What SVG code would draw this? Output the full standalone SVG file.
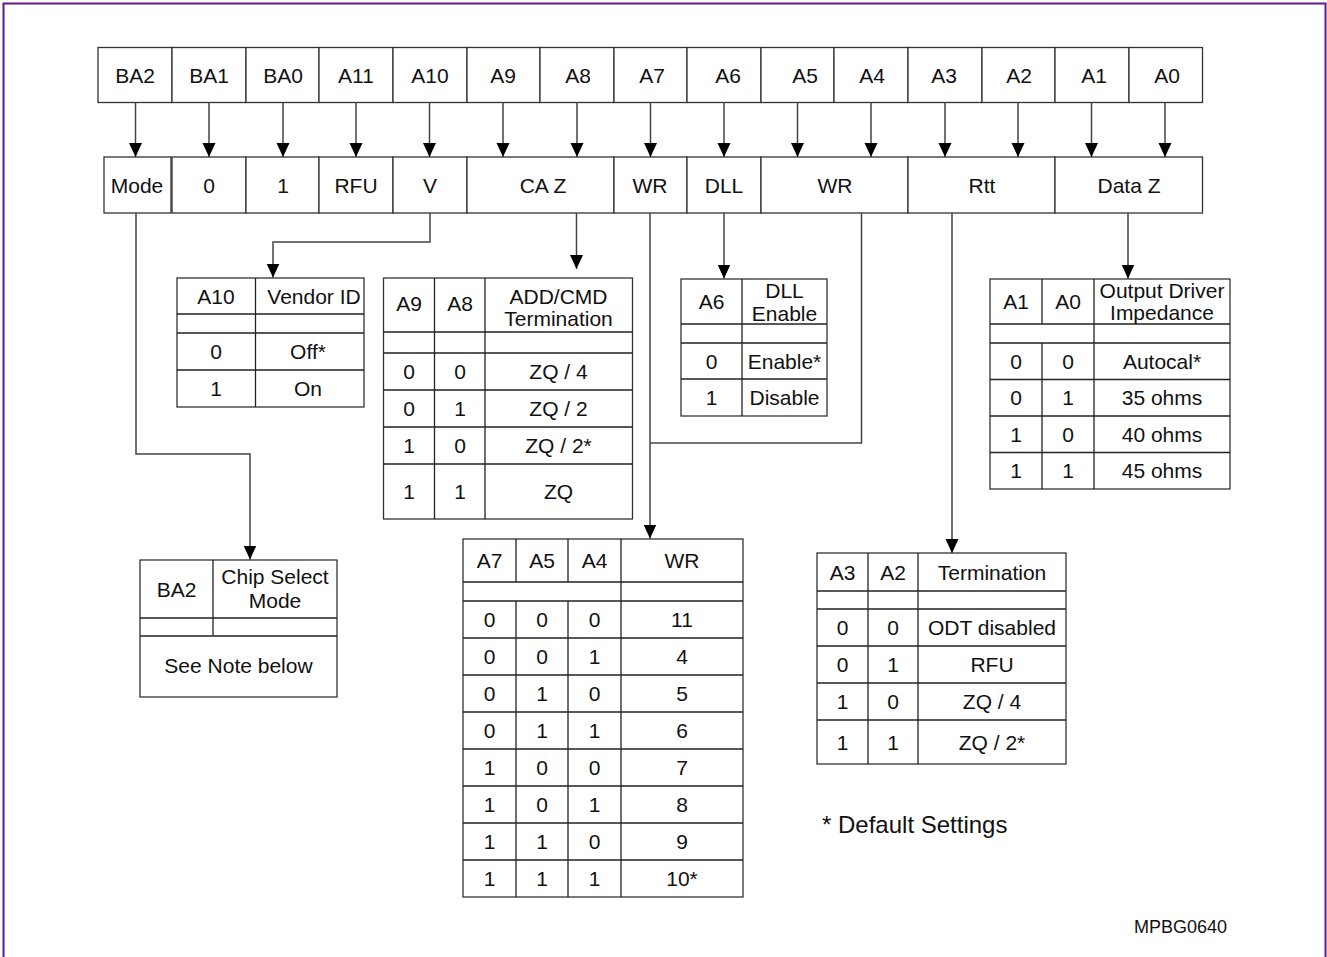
<svg xmlns="http://www.w3.org/2000/svg" width="1327" height="957" viewBox="0 0 1327 957">
<style>
text{font-family:"Liberation Sans",Arial,sans-serif;font-size:21px;fill:#111;text-anchor:middle}
.box{fill:#fff;stroke:#333;stroke-width:1.3}
.ln{stroke:#222;stroke-width:1.3;fill:none}
.con{stroke:#444;stroke-width:1.5;fill:none}
.arr{marker-end:url(#ah)}
</style>
<defs>
<marker id="ah" markerUnits="userSpaceOnUse" markerWidth="15" markerHeight="14" refX="14" refY="6.5" orient="auto" viewBox="0 0 15 14">
<path d="M0,0 L14,6.5 L0,13 z" fill="#000"/>
</marker>
</defs>
<rect x="3.5" y="3.5" width="1322" height="970" fill="#fff" stroke="#5a1a8c" stroke-width="2"/>

<!-- top row -->
<g id="bit-BA2"><rect class="box" x="98" y="47.5" width="74" height="55"/><text x="135" y="82.5">BA2</text></g>
<g id="bit-BA1"><rect class="box" x="172" y="47.5" width="74" height="55"/><text x="209" y="82.5">BA1</text></g>
<g id="bit-BA0"><rect class="box" x="246" y="47.5" width="73" height="55"/><text x="283" y="82.5">BA0</text></g>
<g id="bit-A11"><rect class="box" x="319" y="47.5" width="74" height="55"/><text x="356" y="82.5">A11</text></g>
<g id="bit-A10"><rect class="box" x="393" y="47.5" width="74" height="55"/><text x="430" y="82.5">A10</text></g>
<g id="bit-A9"><rect class="box" x="467" y="47.5" width="73" height="55"/><text x="503" y="82.5">A9</text></g>
<g id="bit-A8"><rect class="box" x="540" y="47.5" width="74" height="55"/><text x="578" y="82.5">A8</text></g>
<g id="bit-A7"><rect class="box" x="614" y="47.5" width="73" height="55"/><text x="652" y="82.5">A7</text></g>
<g id="bit-A6"><rect class="box" x="687" y="47.5" width="74" height="55"/><text x="728" y="82.5">A6</text></g>
<g id="bit-A5"><rect class="box" x="761" y="47.5" width="73" height="55"/><text x="805" y="82.5">A5</text></g>
<g id="bit-A4"><rect class="box" x="834" y="47.5" width="74" height="55"/><text x="872" y="82.5">A4</text></g>
<g id="bit-A3"><rect class="box" x="908" y="47.5" width="74" height="55"/><text x="944" y="82.5">A3</text></g>
<g id="bit-A2"><rect class="box" x="982" y="47.5" width="73" height="55"/><text x="1019" y="82.5">A2</text></g>
<g id="bit-A1"><rect class="box" x="1055" y="47.5" width="74" height="55"/><text x="1094" y="82.5">A1</text></g>
<g id="bit-A0"><rect class="box" x="1129" y="47.5" width="73.5" height="55"/><text x="1167" y="82.5">A0</text></g>

<!-- second row -->
<g id="fld-mode"><rect class="box" x="104" y="157" width="67" height="56"/><text x="137" y="192.5">Mode</text></g>
<g id="fld-0"><rect class="box" x="172" y="157" width="74" height="56"/><text x="209" y="192.5">0</text></g>
<g id="fld-1"><rect class="box" x="246" y="157" width="73" height="56"/><text x="283" y="192.5">1</text></g>
<g id="fld-rfu"><rect class="box" x="319" y="157" width="74" height="56"/><text x="356" y="192.5">RFU</text></g>
<g id="fld-v"><rect class="box" x="393" y="157" width="74" height="56"/><text x="430" y="192.5">V</text></g>
<g id="fld-caz"><rect class="box" x="467" y="157" width="147" height="56"/><text x="543" y="192.5">CA Z</text></g>
<g id="fld-wr1"><rect class="box" x="614" y="157" width="73" height="56"/><text x="650" y="192.5">WR</text></g>
<g id="fld-dll"><rect class="box" x="687" y="157" width="74" height="56"/><text x="724" y="192.5">DLL</text></g>
<g id="fld-wr2"><rect class="box" x="761" y="157" width="147" height="56"/><text x="835" y="192.5">WR</text></g>
<g id="fld-rtt"><rect class="box" x="908" y="157" width="147" height="56"/><text x="982" y="192.5">Rtt</text></g>
<g id="fld-dataz"><rect class="box" x="1055" y="157" width="147.5" height="56"/><text x="1129" y="192.5">Data Z</text></g>

<!-- connectors -->
<g id="connectors">
<path class="con arr" d="M135.5,102.5 V157"/>
<path class="con arr" d="M209,102.5 V157"/>
<path class="con arr" d="M283,102.5 V157"/>
<path class="con arr" d="M356,102.5 V157"/>
<path class="con arr" d="M429.5,102.5 V157"/>
<path class="con arr" d="M503,102.5 V157"/>
<path class="con arr" d="M577,102.5 V157"/>
<path class="con arr" d="M650.5,102.5 V157"/>
<path class="con arr" d="M724,102.5 V157"/>
<path class="con arr" d="M797.5,102.5 V157"/>
<path class="con arr" d="M871,102.5 V157"/>
<path class="con arr" d="M945,102.5 V157"/>
<path class="con arr" d="M1018,102.5 V157"/>
<path class="con arr" d="M1091.5,102.5 V157"/>
<path class="con arr" d="M1165,102.5 V157"/>
<path class="con arr" d="M136,213 V454 H250 V559.5"/>
<path class="con arr" d="M430,213 V242 H273 V277.5"/>
<path class="con arr" d="M576.5,213 V269"/>
<path class="con arr" d="M650,213 V538.5"/>
<path class="con arr" d="M724,213 V278.5"/>
<path class="con" d="M861.5,213 V443 H650"/>
<path class="con arr" d="M952,213 V553"/>
<path class="con arr" d="M1128,213 V278.5"/>
</g>

<!-- Vendor ID table -->
<g id="tbl-vendor">
<rect class="box" x="177" y="278" width="187" height="129"/>
<path class="ln" d="M177,314 H364 M177,333 H364 M177,370 H364 M255.5,278 V407"/>
<text x="216" y="303.5">A10</text><text x="314" y="303.5">Vendor ID</text>
<text x="216" y="359">0</text><text x="308" y="359">Off*</text>
<text x="216" y="396">1</text><text x="308" y="396">On</text>
</g>

<!-- ADD/CMD table -->
<g id="tbl-addcmd">
<rect class="box" x="383.5" y="278" width="249" height="241"/>
<path class="ln" d="M383.5,332 H632.5 M383.5,353 H632.5 M383.5,390 H632.5 M383.5,427 H632.5 M383.5,464 H632.5 M434.5,278 V519 M485,278 V519"/>
<text x="409" y="310.5">A9</text><text x="460" y="310.5">A8</text>
<text x="558.5" y="303.5">ADD/CMD</text><text x="558.5" y="325.5">Termination</text>
<text x="409" y="379">0</text><text x="460" y="379">0</text><text x="558.5" y="379">ZQ / 4</text>
<text x="409" y="416">0</text><text x="460" y="416">1</text><text x="558.5" y="416">ZQ / 2</text>
<text x="409" y="453">1</text><text x="460" y="453">0</text><text x="558.5" y="453">ZQ / 2*</text>
<text x="409" y="499">1</text><text x="460" y="499">1</text><text x="558.5" y="499">ZQ</text>
</g>

<!-- DLL table -->
<g id="tbl-dll">
<rect class="box" x="681" y="279" width="146" height="137"/>
<path class="ln" d="M681,324 H827 M681,343 H827 M681,379 H827 M742,279 V416"/>
<text x="711.5" y="309">A6</text>
<text x="784.5" y="297.5">DLL</text><text x="784.5" y="320.5">Enable</text>
<text x="711.5" y="368.5">0</text><text x="784.5" y="368.5">Enable*</text>
<text x="711.5" y="405">1</text><text x="784.5" y="405">Disable</text>
</g>

<!-- Output Driver table -->
<g id="tbl-odi">
<rect class="box" x="990" y="279" width="240" height="210"/>
<path class="ln" d="M990,324 H1230 M990,343 H1230 M990,379.5 H1230 M990,416 H1230 M990,452.5 H1230 M1042,279 V324 M1042,343 V489 M1094,279 V489"/>
<text x="1016" y="309">A1</text><text x="1068" y="309">A0</text>
<text x="1162" y="297.5">Output Driver</text><text x="1162" y="319.5">Impedance</text>
<text x="1016" y="368.5">0</text><text x="1068" y="368.5">0</text><text x="1162" y="368.5">Autocal*</text>
<text x="1016" y="405">0</text><text x="1068" y="405">1</text><text x="1162" y="405">35 ohms</text>
<text x="1016" y="441.5">1</text><text x="1068" y="441.5">0</text><text x="1162" y="441.5">40 ohms</text>
<text x="1016" y="478">1</text><text x="1068" y="478">1</text><text x="1162" y="478">45 ohms</text>
</g>

<!-- Chip Select table -->
<g id="tbl-chipselect">
<rect class="box" x="140" y="560" width="197" height="137"/>
<path class="ln" d="M140,618 H337 M140,636 H337 M213,560 V636"/>
<text x="176.5" y="596.5">BA2</text>
<text x="275" y="584">Chip Select</text><text x="275" y="607.5">Mode</text>
<text x="238.5" y="672.5">See Note below</text>
</g>

<!-- WR table -->
<g id="tbl-wr">
<rect class="box" x="463" y="539" width="280" height="358"/>
<path class="ln" d="M463,582 H743 M463,601 H743 M463,638 H743 M463,675 H743 M463,712 H743 M463,749 H743 M463,786 H743 M463,823 H743 M463,860 H743 M516,539 V582 M516,601 V897 M568,539 V582 M568,601 V897 M621,539 V897"/>
<text x="489.5" y="568">A7</text><text x="542" y="568">A5</text><text x="594.5" y="568">A4</text><text x="682" y="568">WR</text>
<text x="489.5" y="627">0</text><text x="542" y="627">0</text><text x="594.5" y="627">0</text><text x="682" y="627">11</text>
<text x="489.5" y="664">0</text><text x="542" y="664">0</text><text x="594.5" y="664">1</text><text x="682" y="664">4</text>
<text x="489.5" y="701">0</text><text x="542" y="701">1</text><text x="594.5" y="701">0</text><text x="682" y="701">5</text>
<text x="489.5" y="738">0</text><text x="542" y="738">1</text><text x="594.5" y="738">1</text><text x="682" y="738">6</text>
<text x="489.5" y="775">1</text><text x="542" y="775">0</text><text x="594.5" y="775">0</text><text x="682" y="775">7</text>
<text x="489.5" y="812">1</text><text x="542" y="812">0</text><text x="594.5" y="812">1</text><text x="682" y="812">8</text>
<text x="489.5" y="849">1</text><text x="542" y="849">1</text><text x="594.5" y="849">0</text><text x="682" y="849">9</text>
<text x="489.5" y="886">1</text><text x="542" y="886">1</text><text x="594.5" y="886">1</text><text x="682" y="886">10*</text>
</g>

<!-- Termination table -->
<g id="tbl-rtt">
<rect class="box" x="817" y="553" width="249" height="211"/>
<path class="ln" d="M817,591 H1066 M817,609 H1066 M817,646 H1066 M817,683 H1066 M817,720 H1066 M868,553 V764 M918,553 V764"/>
<text x="842.5" y="579.5">A3</text><text x="893" y="579.5">A2</text><text x="992" y="579.5">Termination</text>
<text x="842.5" y="635">0</text><text x="893" y="635">0</text><text x="992" y="635">ODT disabled</text>
<text x="842.5" y="672">0</text><text x="893" y="672">1</text><text x="992" y="672">RFU</text>
<text x="842.5" y="709">1</text><text x="893" y="709">0</text><text x="992" y="709">ZQ / 4</text>
<text x="842.5" y="749.5">1</text><text x="893" y="749.5">1</text><text x="992" y="749.5">ZQ / 2*</text>
</g>

<g id="notes">
<text x="822" y="832.5" style="text-anchor:start;font-size:24px">* Default Settings</text>
<text x="1227" y="933" style="text-anchor:end;font-size:18px">MPBG0640</text>
</g>
</svg>
